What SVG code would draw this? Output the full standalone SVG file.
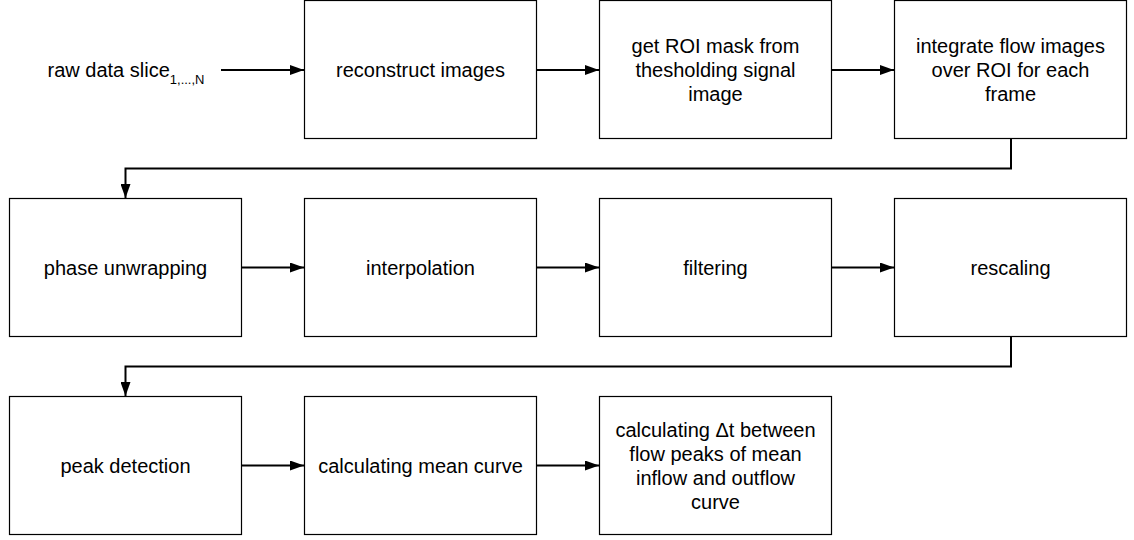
<svg xmlns="http://www.w3.org/2000/svg" width="1134" height="540" viewBox="0 0 1134 540">
<defs>
<marker id="ah" markerWidth="14" markerHeight="10" refX="14" refY="5" orient="auto" markerUnits="userSpaceOnUse"><path d="M0,0 L14,5 L0,10 Z" fill="#000"/></marker>
<style>
.box{fill:#fff;stroke:#000;stroke-width:1.2}
.t{font-family:"Liberation Sans",Arial,sans-serif;font-size:20px;fill:#000;text-anchor:middle}
.c{fill:none;stroke:#000;stroke-width:2}
</style>
</defs>
<rect width="1134" height="540" fill="#fff"/>
<g id="n0"><text class="t" x="126" y="77">raw data slice<tspan font-size="13" dy="7">1,...,N</tspan></text></g>
<g id="n1"><rect class="box" x="304.5" y="0.5" width="232" height="138"/><text class="t" x="420.5" y="77">reconstruct images</text></g>
<g id="n2"><rect class="box" x="599.5" y="0.5" width="232" height="138"/><text class="t" x="715.5" y="53">get ROI mask from</text><text class="t" x="715.5" y="77">thesholding signal</text><text class="t" x="715.5" y="101">image</text></g>
<g id="n3"><rect class="box" x="894.5" y="0.5" width="232" height="138"/><text class="t" x="1010.5" y="53">integrate flow images</text><text class="t" x="1010.5" y="77">over ROI for each</text><text class="t" x="1010.5" y="101">frame</text></g>
<g id="n4"><rect class="box" x="9.5" y="198.5" width="232" height="138"/><text class="t" x="125.5" y="275">phase unwrapping</text></g>
<g id="n5"><rect class="box" x="304.5" y="198.5" width="232" height="138"/><text class="t" x="420.5" y="275">interpolation</text></g>
<g id="n6"><rect class="box" x="599.5" y="198.5" width="232" height="138"/><text class="t" x="715.5" y="275">filtering</text></g>
<g id="n7"><rect class="box" x="894.5" y="198.5" width="232" height="138"/><text class="t" x="1010.5" y="275">rescaling</text></g>
<g id="n8"><rect class="box" x="9.5" y="396.5" width="232" height="138"/><text class="t" x="125.5" y="473">peak detection</text></g>
<g id="n9"><rect class="box" x="304.5" y="396.5" width="232" height="138"/><text class="t" x="420.5" y="473">calculating mean curve</text></g>
<g id="n10"><rect class="box" x="599.5" y="396.5" width="232" height="138"/><text class="t" x="715.5" y="437">calculating Δt between</text><text class="t" x="715.5" y="461">flow peaks of mean</text><text class="t" x="715.5" y="485">inflow and outflow</text><text class="t" x="715.5" y="509">curve</text></g>
<g id="connectors">
<path class="c" d="M221,70 H304" marker-end="url(#ah)"/>
<path class="c" d="M536.5,70 H599" marker-end="url(#ah)"/>
<path class="c" d="M831.5,70 H894" marker-end="url(#ah)"/>
<path class="c" d="M1011,138.5 V168.5 H125.5 V198" marker-end="url(#ah)"/>
<path class="c" d="M241.5,267.5 H304" marker-end="url(#ah)"/>
<path class="c" d="M536.5,267.5 H599" marker-end="url(#ah)"/>
<path class="c" d="M831.5,267.5 H894" marker-end="url(#ah)"/>
<path class="c" d="M1011,336.5 V366.5 H125.5 V396" marker-end="url(#ah)"/>
<path class="c" d="M241.5,465.5 H304" marker-end="url(#ah)"/>
<path class="c" d="M536.5,465.5 H599" marker-end="url(#ah)"/>
</g>
</svg>
